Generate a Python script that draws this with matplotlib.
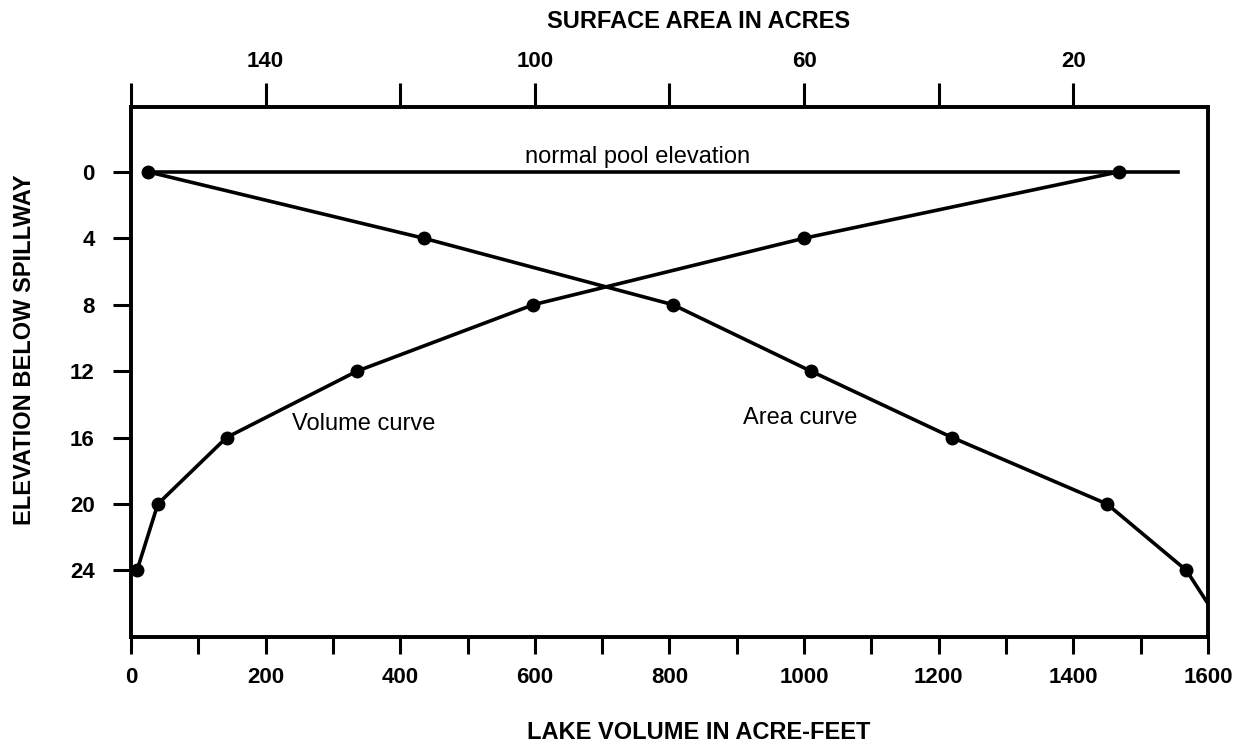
import numpy as np
from matplotlib import pyplot as plt

# elevation below spillway (feet)
elev = [0, 4, 8, 12, 16, 20, 24]

# volume curve, read against the bottom axis (acre-feet)
volume = [1468, 1000, 598, 336, 142, 40, 9]

# area curve, read against the top axis (acres); last point runs to the edge
area_elev = [0, 4, 8, 12, 16, 20, 24, 26]
area = [157.5, 116.5, 79.5, 59, 38, 15, 3.2, 0]

pool_start = 25
pool_end = 1556

plt.rcParams['font.family'] = ['Liberation Sans', 'DejaVu Sans']

fig = plt.figure(figsize=(12.47, 7.51), dpi=100)
ax = fig.add_axes([0.105, 0.152, 0.8637, 0.7055])

lw = 2.6
ax.plot(volume, elev, color='black', lw=lw, marker='o', markersize=9, zorder=3)
ax.plot([pool_start, pool_end], [0, 0], color='black', lw=lw)

ax.set_xlim(0, 1600)
ax.set_ylim(28, -3.9)
ax.set_xticks(np.arange(0, 1601, 100))
ax.set_xticklabels([str(v) if v % 200 == 0 else '' for v in range(0, 1601, 100)])
ax.set_yticks(elev)
ax.tick_params(axis='both', direction='out', width=2.2, labelsize=16)
ax.tick_params(axis='x', length=12, pad=10)
ax.tick_params(axis='y', length=13, pad=13)
for lab in ax.get_xticklabels() + ax.get_yticklabels():
    lab.set_fontweight('bold')

ax2 = ax.twiny()
ax2.plot(area, area_elev, color='black', lw=lw, zorder=3)
ax2.plot(area[:-1], area_elev[:-1], 'o', color='black', markersize=9, zorder=3)
ax2.set_xlim(160, 0)
ax2.set_xticks(np.arange(160, 19, -20))
ax2.set_xticklabels([str(a) if a in (140, 100, 60, 20) else '' for a in range(160, 19, -20)])
ax2.tick_params(axis='x', direction='out', length=17, width=2.2, labelsize=16, pad=8)
for lab in ax2.get_xticklabels():
    lab.set_fontweight('bold')

for a in (ax, ax2):
    for sp in a.spines.values():
        sp.set_linewidth(2.6)

ax.text(753, -0.9, 'normal pool elevation', fontsize=17, ha='center', va='center')
ax.text(346, 15.2, 'Volume curve', fontsize=17, ha='center', va='center')
ax.text(994, 14.8, 'Area curve', fontsize=17, ha='center', va='center')

fig.text(0.56, 0.024, 'LAKE VOLUME IN ACRE-FEET', fontsize=17, fontweight='bold', ha='center', va='center')
fig.text(0.56, 0.972, 'SURFACE AREA IN ACRES', fontsize=17, fontweight='bold', ha='center', va='center')
fig.text(0.02, 0.535, 'ELEVATION BELOW SPILLWAY', fontsize=17, fontweight='bold', rotation=90,
         ha='center', va='center')

fig.savefig('out.png', dpi=100)
